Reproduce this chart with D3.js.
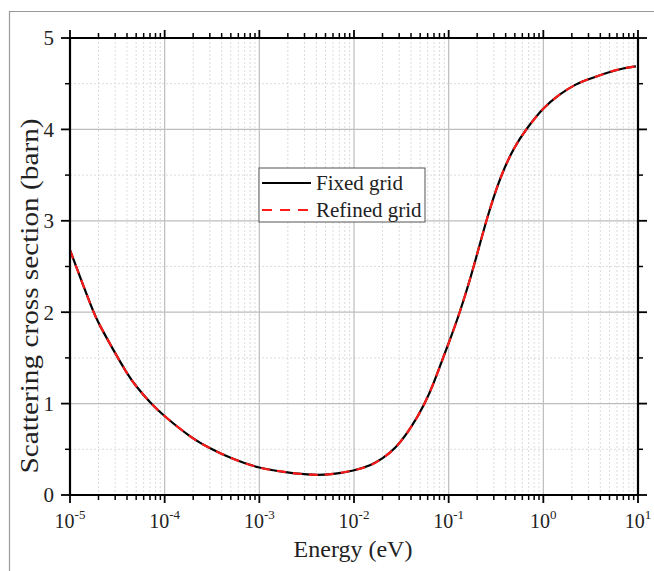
<!DOCTYPE html>
<html>
<head>
<meta charset="utf-8">
<script src="https://cdn.jsdelivr.net/npm/d3@7"></script>
<style>
  body { margin: 0; background: #fff; }
  svg { font-family: "Liberation Serif", "Times New Roman", serif; }
</style>
</head>
<body>
<div id="chart"></div>
<script>
// Energy (eV) and scattering cross section (barn).
var energy = [1e-5, 1.76e-5, 2e-5, 3e-5, 4e-5, 5e-5, 7.17e-5, 1e-4, 2e-4, 2.9e-4,
              5e-4, 1e-3, 2e-3, 3.7e-3, 6e-3, 1e-2, 1.5e-2, 2e-2, 2.71e-2, 4e-2,
              5.62e-2, 7e-2, 8.43e-2, 0.1, 0.132, 0.185, 0.248, 0.354, 0.5, 0.656,
              1, 1.5, 2.24, 3, 5, 7, 9.5];
var fixedGrid = [2.68, 2.0, 1.88, 1.55, 1.33, 1.185, 1.0, 0.857, 0.61, 0.52,
                 0.40, 0.29, 0.245, 0.215, 0.226, 0.266, 0.32, 0.40, 0.5, 0.73,
                 1.0, 1.23, 1.46, 1.66, 2.0, 2.5, 3.0, 3.5, 3.82, 4.0,
                 4.24, 4.39, 4.5, 4.55, 4.63, 4.67, 4.69];
var refinedGrid = fixedGrid.slice();
var xDecades = [-5, -4, -3, -2, -1, 0, 1];
var yTicks = [0, 1, 2, 3, 4, 5];
var yMinorTicks = [0.5, 1.5, 2.5, 3.5, 4.5];
var seriesNames = ["Fixed grid", "Refined grid"];

var svgWidth = 654;
var svgHeight = 571;
var margin = {top: 38, right: 16, bottom: 76, left: 70};
var chartWidth = 638 - margin.left;
var chartHeight = 495 - margin.top;

var svg = d3.select("#chart").append("svg").attr("width", svgWidth).attr("height", svgHeight);

// Outer gray frame (top and left edges)
svg.append("path").attr("d", "M9.5,571 V11.5 H654").attr("fill", "none")
    .attr("stroke", "#999").attr("stroke-width", 1.2);

var chartGroup = svg.append("g").attr("transform", `translate(${margin.left},${margin.top})`);

var xScale = d3.scaleLog().domain([1e-5, 10]).range([0, chartWidth]);
var yScale = d3.scaleLinear().domain([0, 5]).range([chartHeight, 0]);

// Minor x values 2..9 per decade
var xMinor = [];
xDecades.slice(0, -1).forEach(p => {
    for (var k = 2; k <= 9; k++) xMinor.push(k * Math.pow(10, p));
});
var xMajor = xDecades.map(p => Math.pow(10, p));

// Grid lines
var grid = chartGroup.append("g");
grid.selectAll(".xminor").data(xMinor).enter().append("line")
    .attr("x1", d => xScale(d)).attr("x2", d => xScale(d))
    .attr("y1", 0).attr("y2", chartHeight)
    .attr("stroke", "#dcdcdc").attr("stroke-dasharray", "2,2");
grid.selectAll(".yminor").data(yMinorTicks).enter().append("line")
    .attr("x1", 0).attr("x2", chartWidth)
    .attr("y1", d => yScale(d)).attr("y2", d => yScale(d))
    .attr("stroke", "#dcdcdc").attr("stroke-dasharray", "2,2");
grid.selectAll(".xmajor").data(xMajor).enter().append("line")
    .attr("x1", d => xScale(d)).attr("x2", d => xScale(d))
    .attr("y1", 0).attr("y2", chartHeight)
    .attr("stroke", "#bdbdbd").attr("stroke-width", 1.2);
grid.selectAll(".ymajor").data(yTicks).enter().append("line")
    .attr("x1", 0).attr("x2", chartWidth)
    .attr("y1", d => yScale(d)).attr("y2", d => yScale(d))
    .attr("stroke", "#bdbdbd").attr("stroke-width", 1.2);

// Curves
var points = energy.map((e, i) => ({e: e, fixed: fixedGrid[i], refined: refinedGrid[i]}));
var lineFixed = d3.line().x(d => xScale(d.e)).y(d => yScale(d.fixed)).curve(d3.curveBasis);
var lineRefined = d3.line().x(d => xScale(d.e)).y(d => yScale(d.refined)).curve(d3.curveBasis);
chartGroup.append("path").datum(points).attr("d", lineFixed)
    .attr("fill", "none").attr("stroke", "#000").attr("stroke-width", 2.2);
chartGroup.append("path").datum(points).attr("d", lineRefined)
    .attr("fill", "none").attr("stroke", "#ff1a1a").attr("stroke-width", 2.2)
    .attr("stroke-dasharray", "9,7");

// Axes: ticks outward on all four sides
function drawXAxis(g, dir) {
    g.selectAll(".maj").data(xMajor).enter().append("line")
        .attr("x1", d => xScale(d)).attr("x2", d => xScale(d))
        .attr("y1", 0).attr("y2", 8 * dir).attr("stroke", "#000").attr("stroke-width", 1.8);
    g.selectAll(".min").data(xMinor).enter().append("line")
        .attr("x1", d => xScale(d)).attr("x2", d => xScale(d))
        .attr("y1", 0).attr("y2", 5 * dir).attr("stroke", "#000").attr("stroke-width", 1.5);
    g.append("line").attr("x1", -1).attr("x2", chartWidth + 1)
        .attr("stroke", "#000").attr("stroke-width", 2.2);
}
function drawYAxis(g, dir) {
    g.selectAll(".maj").data(yTicks).enter().append("line")
        .attr("y1", d => yScale(d)).attr("y2", d => yScale(d))
        .attr("x1", 0).attr("x2", 9 * dir).attr("stroke", "#000").attr("stroke-width", 1.8);
    g.selectAll(".min").data(yMinorTicks).enter().append("line")
        .attr("y1", d => yScale(d)).attr("y2", d => yScale(d))
        .attr("x1", 0).attr("x2", 5 * dir).attr("stroke", "#000").attr("stroke-width", 1.5);
    g.append("line").attr("y1", -1).attr("y2", chartHeight + 1)
        .attr("stroke", "#000").attr("stroke-width", 2.2);
}
drawXAxis(chartGroup.append("g").attr("transform", `translate(0,${chartHeight})`), 1);
drawXAxis(chartGroup.append("g"), -1);
drawYAxis(chartGroup.append("g"), -1);
drawYAxis(chartGroup.append("g").attr("transform", `translate(${chartWidth},0)`), 1);

// Tick labels
var xLabels = chartGroup.selectAll(".xlab").data(xDecades).enter().append("text")
    .attr("x", d => xScale(Math.pow(10, d)))
    .attr("y", chartHeight + 33)
    .attr("text-anchor", "middle")
    .attr("font-size", "20px")
    .attr("fill", "#222");
xLabels.append("tspan").text("10");
xLabels.append("tspan").attr("dy", -9).attr("font-size", "13px").text(d => d);

chartGroup.selectAll(".ylab").data(yTicks).enter().append("text")
    .attr("x", -16)
    .attr("y", d => yScale(d))
    .attr("dy", "0.35em")
    .attr("text-anchor", "end")
    .attr("font-size", "21px")
    .attr("fill", "#222")
    .text(d => d);

// Axis titles
svg.append("text")
    .attr("x", 353).attr("y", 557)
    .attr("text-anchor", "middle")
    .attr("font-size", "24px")
    .attr("fill", "#222")
    .text("Energy (eV)");

svg.append("text")
    .attr("transform", "translate(38,296) rotate(-90)")
    .attr("text-anchor", "middle")
    .attr("font-size", "25px")
    .attr("textLength", 355)
    .attr("lengthAdjust", "spacingAndGlyphs")
    .attr("fill", "#222")
    .text("Scattering cross section (barn)");

// Legend
var legend = svg.append("g").attr("transform", "translate(259,168)");
legend.append("rect").attr("width", 166).attr("height", 54)
    .attr("fill", "#fff").attr("stroke", "#555").attr("stroke-width", 1);
legend.append("line").attr("x1", 3).attr("x2", 52).attr("y1", 15).attr("y2", 15)
    .attr("stroke", "#000").attr("stroke-width", 2.2);
legend.append("line").attr("x1", 3).attr("x2", 52).attr("y1", 42).attr("y2", 42)
    .attr("stroke", "#ff1a1a").attr("stroke-width", 2.2).attr("stroke-dasharray", "10,8");
legend.selectAll(".lt").data(seriesNames).enter().append("text")
    .attr("x", 57)
    .attr("y", (d, i) => 15 + i * 27)
    .attr("dy", "0.35em")
    .attr("font-size", "21px")
    .attr("fill", "#222")
    .text(d => d);
</script>
</body>
</html>
